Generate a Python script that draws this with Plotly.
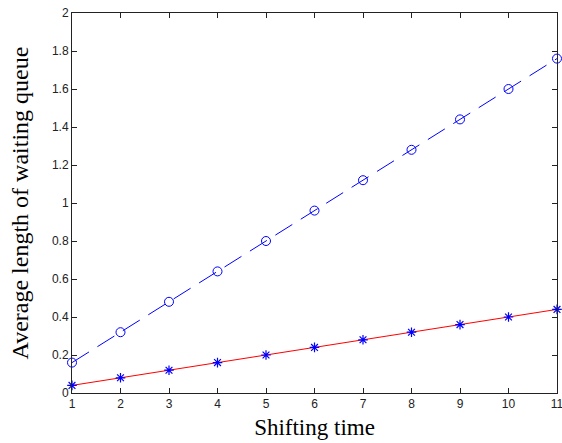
import plotly.graph_objects as go

shifting_time = [1, 2, 3, 4, 5, 6, 7, 8, 9, 10, 11]
queue_blue = [0.16, 0.32, 0.48, 0.64, 0.80, 0.96, 1.12, 1.28, 1.44, 1.60, 1.76]
queue_red = [0.04, 0.08, 0.12, 0.16, 0.20, 0.24, 0.28, 0.32, 0.36, 0.40, 0.44]
y_ticks = [0, 0.2, 0.4, 0.6, 0.8, 1, 1.2, 1.4, 1.6, 1.8, 2]
y_tick_text = ["0", "0.2", "0.4", "0.6", "0.8", "1", "1.2", "1.4", "1.6", "1.8", "2"]

fig = go.Figure()
fig.add_trace(go.Scatter(
    x=shifting_time, y=queue_blue, mode="lines+markers",
    line=dict(color="#0000ff", width=1, dash="20px,10px"),
    marker=dict(symbol="circle-open", size=9, color="#0000ff", line=dict(width=1, color="#0000ff")),
    showlegend=False, cliponaxis=False))
fig.add_trace(go.Scatter(
    x=shifting_time, y=queue_red, mode="lines",
    line=dict(color="#ff0000", width=1),
    showlegend=False, cliponaxis=False))
fig.add_trace(go.Scatter(
    x=shifting_time, y=queue_red, mode="markers",
    marker=dict(symbol="asterisk-open", size=8, color="#0000ff", line=dict(width=1.2, color="#0000ff")),
    showlegend=False, cliponaxis=False))

axis_common = dict(
    showgrid=False, zeroline=False, showline=True, linecolor="#222", linewidth=1,
    mirror="ticks", ticks="inside", ticklen=5, tickcolor="#222",
    tickfont=dict(family="Liberation Sans, Arial", size=12, color="#222"),
    ticklabeloverflow="allow",
)
fig.update_xaxes(range=[1, 11], tickvals=shifting_time, automargin="height+bottom",
                 title=dict(text="Shifting time", font=dict(family="Liberation Serif, Times New Roman", size=23, color="#000"), standoff=8),
                 **axis_common)
fig.update_yaxes(range=[0, 2], tickvals=y_ticks, ticktext=y_tick_text, automargin="width+left",
                 title=dict(text="Average length of waiting queue", font=dict(family="Liberation Serif, Times New Roman", size=24, color="#000"), standoff=16),
                 **axis_common)
fig.update_layout(
    width=562, height=443,
    margin=dict(l=72, r=5, t=13, b=50),
    plot_bgcolor="white", paper_bgcolor="white",
)
fig.write_html("out.html", config={"displayModeBar": False},
               post_script="document.body.style.margin='0';")
